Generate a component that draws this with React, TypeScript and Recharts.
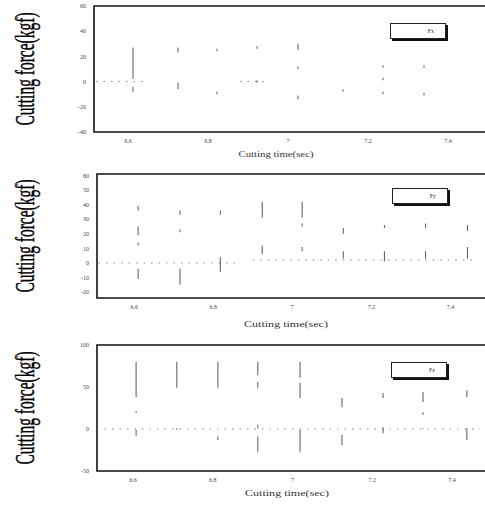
import { LineChart, Line, XAxis, YAxis, ReferenceArea, Legend } from 'recharts';

const xTicks = [6.6, 6.8, 7, 7.2, 7.4];

// Fx panel: each entry is one vertical trace segment (time, low, high)
const fxTime = [6.6125, 6.6125, 6.725, 6.725, 6.8225, 6.8225, 6.9225, 6.9225, 7.025, 7.025, 7.025, 7.1375, 7.2375, 7.2375, 7.2375, 7.34, 7.34];
const fxLow = [2, -8, 23, -6, 24, -10, 26, -1, 25, 10, -14, -8, 11, 1, -10, 11, -11];
const fxHigh = [27, -4, 27, -1, 26, -8, 28, 1, 30, 12, -11, -6, 13, 3, -8, 13, -9];
const fxBaseStart = [6.52, 6.88];
const fxBaseEnd = [6.65, 6.95];
const fxBaseValue = [0, 0];
const fxTicks = [-40, -20, 0, 20, 40, 60];

// Fy panel
const fyTime = [6.61, 6.61, 6.61, 6.61, 6.716, 6.716, 6.716, 6.818, 6.818, 6.924, 6.924, 7.025, 7.025, 7.025, 7.129, 7.129, 7.233, 7.233, 7.337, 7.337, 7.443, 7.443];
const fyLow = [36, 19, 12, -11, 33, 21, -15, 33, -6, 31, 6, 31, 25, 8, 20, 3, 24, 1, 24, 3, 22, 3];
const fyHigh = [39, 25, 14, -4, 36, 23, -4, 36, 4, 42, 12, 42, 27, 11, 24, 8, 26, 8, 27, 8, 26, 11];
const fyBaseStart = [6.51, 6.9];
const fyBaseEnd = [6.86, 7.47];
const fyBaseValue = [0, 2];
const fyTicks = [-20, -10, 0, 10, 20, 30, 40, 50, 60];

// Fz panel
const fzTime = [6.608, 6.608, 6.608, 6.71, 6.71, 6.813, 6.813, 6.913, 6.913, 6.913, 6.913, 7.019, 7.019, 7.019, 7.124, 7.124, 7.227, 7.227, 7.327, 7.327, 7.327, 7.437, 7.437];
const fzLow = [38, 19, -8, 49, -1, 49, -13, 64, 49, 1, -27, 61, 37, -27, 26, -19, 37, -5, 32, 17, 0, 38, -13];
const fzHigh = [80, 21, -1, 80, 1, 80, -9, 80, 56, 5, -9, 80, 55, -1, 37, -7, 43, 2, 44, 20, 1, 46, 1];
const fzBaseStart = [6.51];
const fzBaseEnd = [7.47];
const fzBaseValue = [0];
const fzTicks = [-50, 0, 50, 100];

const FONT = '"Liberation Serif", "Times New Roman", serif';

function traceRows(time: number[], low: number[], high: number[]) {
  const rows: { t: number; v: number | null }[] = [];
  time.forEach((t, i) => {
    rows.push({ t, v: low[i] }, { t, v: high[i] }, { t, v: null });
  });
  return rows;
}

function baseRows(start: number[], end: number[], value: number[]) {
  const rows: { t: number; v: number | null }[] = [];
  start.forEach((s, i) => {
    rows.push({ t: s, v: value[i] }, { t: end[i], v: value[i] }, { t: end[i], v: null });
  });
  return rows;
}

interface PanelProps {
  name: string;
  top: number;
  width: number;
  height: number;
  yAxisWidth: number;
  xAxisHeight: number;
  xMin: number;
  yDomain: [number, number];
  yTicks: number[];
  trace: { t: number; v: number | null }[];
  base: { t: number; v: number | null }[];
  legendLeft: number;
  legendTop: number;
  titleX: number;
  titleOffset: number;
  titleLength: number;
}

function Panel(p: PanelProps) {
  const plotH = p.height - 6 - p.xAxisHeight;
  const cy = 6 + plotH / 2;
  const axisY = p.height - p.xAxisHeight;

  return (
    <div style={{ position: 'absolute', left: 0, top: p.top }}>
      <LineChart width={p.width} height={p.height} margin={{ top: 6, right: 0, bottom: 0, left: 0 }}>
        <XAxis
          dataKey="t"
          type="number"
          domain={[p.xMin, 7.5]}
          ticks={xTicks}
          allowDataOverflow
          axisLine={false}
          tickLine={false}
          tickSize={0}
          tickMargin={7}
          height={p.xAxisHeight}
          tick={{ fontSize: 6, fill: '#444', fontFamily: FONT }}
          label={{
            content: () => (
              <text
                x={p.titleX}
                y={axisY + p.titleOffset}
                textAnchor="middle"
                dominantBaseline="middle"
                fontSize={9}
                fontFamily={FONT}
                fill="#333"
                textLength={p.titleLength}
                lengthAdjust="spacingAndGlyphs"
              >
                Cutting time(sec)
              </text>
            ),
          }}
        />
        <YAxis
          type="number"
          domain={p.yDomain}
          ticks={p.yTicks}
          allowDataOverflow
          axisLine={false}
          tickLine={false}
          tickSize={0}
          tickMargin={8}
          width={p.yAxisWidth}
          tick={{ fontSize: 6, fill: '#444', fontFamily: FONT }}
          label={{
            content: () => (
              <text
                x={0}
                y={0}
                transform={`translate(34 ${cy}) rotate(-90) scale(1 1.75)`}
                textAnchor="middle"
                fontSize={15.5}
                fontFamily={FONT}
                fill="#000"
                stroke="#000"
                strokeWidth={0.25}
              >
                Cutting force(kgf)
              </text>
            ),
          }}
        />
        <ReferenceArea
          x1={p.xMin}
          x2={7.5}
          y1={p.yDomain[0]}
          y2={p.yDomain[1]}
          fill="none"
          stroke="#111"
          strokeWidth={1.6}
          fillOpacity={0}
        />
        <Line
          data={p.base}
          dataKey="v"
          type="linear"
          stroke="#888"
          strokeWidth={1}
          strokeDasharray="1.5 6"
          dot={false}
          activeDot={false}
          isAnimationActive={false}
        />
        <Line
          data={p.trace}
          dataKey="v"
          type="linear"
          stroke="#666"
          strokeWidth={1.1}
          dot={false}
          activeDot={false}
          isAnimationActive={false}
        />
        <Legend
          layout="horizontal"
          verticalAlign="middle"
          align="center"
          wrapperStyle={{ left: p.legendLeft, top: p.legendTop, width: 58, height: 18 }}
          content={() => (
            <div
              style={{
                width: 54,
                height: 14,
                border: '1px solid #222',
                boxShadow: '2px 2px 0 #111',
                background: '#fff',
                display: 'flex',
                alignItems: 'center',
                justifyContent: 'flex-end',
                fontFamily: FONT,
                fontSize: 6,
                color: '#333',
              }}
            >
              <span style={{ marginRight: 11 }}>{p.name}</span>
            </div>
          )}
        />
      </LineChart>
    </div>
  );
}

export default function App() {
  return (
    <div style={{ position: 'absolute', left: 0, top: 0, width: 485, height: 505, overflow: 'hidden', background: '#fff' }}>
      <Panel
        name="Fx"
        top={0}
        width={488}
        height={165}
        yAxisWidth={94}
        xAxisHeight={33}
        xMin={6.515}
        yDomain={[-40, 60]}
        yTicks={fxTicks}
        trace={traceRows(fxTime, fxLow, fxHigh)}
        base={baseRows(fxBaseStart, fxBaseEnd, fxBaseValue)}
        legendLeft={390}
        legendTop={23}
        titleX={276}
        titleOffset={23}
        titleLength={75}
      />
      <Panel
        name="Fy"
        top={168}
        width={490}
        height={163}
        yAxisWidth={97}
        xAxisHeight={33}
        xMin={6.506}
        yDomain={[-24, 61]}
        yTicks={fyTicks}
        trace={traceRows(fyTime, fyLow, fyHigh)}
        base={baseRows(fyBaseStart, fyBaseEnd, fyBaseValue)}
        legendLeft={392}
        legendTop={20}
        titleX={286}
        titleOffset={27}
        titleLength={84}
      />
      <Panel
        name="Fz"
        top={339}
        width={492}
        height={166}
        yAxisWidth={97}
        xAxisHeight={34}
        xMin={6.51}
        yDomain={[-50, 100]}
        yTicks={fzTicks}
        trace={traceRows(fzTime, fzLow, fzHigh)}
        base={baseRows(fzBaseStart, fzBaseEnd, fzBaseValue)}
        legendLeft={391}
        legendTop={23}
        titleX={287}
        titleOffset={23}
        titleLength={84}
      />
    </div>
  );
}
